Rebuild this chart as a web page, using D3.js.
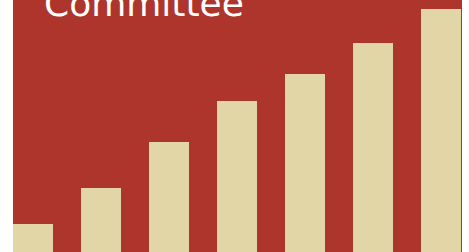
<!DOCTYPE html>
<html>
<head>
  <script src="https://cdn.jsdelivr.net/npm/d3@7"></script>
  <style>
    body { margin: 0; background: #ffffff; }
    svg { display: block; }
  </style>
</head>
<body>
  <div id="chart"></div>
  <script>
    // data
    var categories = ['1', '2', '3', '4', '5', '6', '7'];
    var values = [28, 64, 110, 151, 178, 209, 243];
    var title = 'Committee';

    var width = 469, height = 252;

    var svg = d3.select('#chart')
      .append('svg')
      .attr('width', width)
      .attr('height', height);

    // panel
    svg.append('rect')
      .attr('x', 13)
      .attr('y', 0)
      .attr('width', 449)
      .attr('height', height)
      .attr('fill', '#ae352b');

    var x = d3.scaleBand()
      .domain(categories)
      .range([13, 461])
      .paddingInner(28 / 68)
      .paddingOuter(0);

    var y = d3.scaleLinear()
      .domain([0, 243])
      .range([252, 9]);

    svg.selectAll('.bar')
      .data(values)
      .enter()
      .append('rect')
      .attr('class', 'bar')
      .attr('x', (d, i) => x(categories[i]))
      .attr('y', d => y(d))
      .attr('width', x.bandwidth())
      .attr('height', d => y(0) - y(d))
      .attr('fill', '#e2d6a6');

    svg.append('text')
      .attr('x', 44)
      .attr('y', 16)
      .attr('fill', '#ffffff')
      .style('font-family', 'DejaVu Sans')
      .style('font-size', '36px')
      .text(title);
  </script>
</body>
</html>
